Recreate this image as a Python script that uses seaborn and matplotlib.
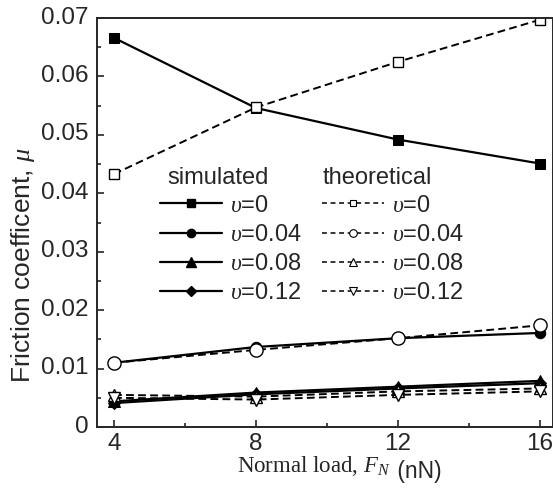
import matplotlib
matplotlib.use("Agg")
import matplotlib.pyplot as plt
import matplotlib.transforms as mtransforms
import seaborn as sns
import pandas as pd
from matplotlib.lines import Line2D
from matplotlib.ticker import MultipleLocator

loads = [4, 8, 12, 16]
sim_v0 = [0.0666, 0.0546, 0.0492, 0.0451]
theo_v0 = [0.0433, 0.0547, 0.0625, 0.0697]
sim_v004 = [0.0110, 0.0137, 0.0152, 0.0161]
theo_v004 = [0.0110, 0.0132, 0.0152, 0.0174]
sim_v008 = [0.0044, 0.0059, 0.0069, 0.0079]
theo_v008 = [0.0055, 0.0052, 0.0061, 0.0066]
sim_v012 = [0.0041, 0.0056, 0.0066, 0.0075]
theo_v012 = [0.0050, 0.0047, 0.0055, 0.0061]
labels = ["0", "0.04", "0.08", "0.12"]
xtick_labels = ["4", "8", "12", "16"]
ytick_vals = [0, 0.01, 0.02, 0.03, 0.04, 0.05, 0.06, 0.07]
ytick_labels = ["0", "0.01", "0.02", "0.03", "0.04", "0.05", "0.06", "0.07"]

sns.set_style("ticks")
plt.rcParams["font.family"] = ["Liberation Sans", "DejaVu Sans"]
plt.rcParams["mathtext.fontset"] = "custom"
plt.rcParams["mathtext.it"] = "Liberation Serif:italic"
plt.rcParams["mathtext.rm"] = "Liberation Serif"

fig = plt.figure(figsize=(5.53, 4.91), dpi=100)
ax = fig.add_axes([0.1754, 0.1303, 0.8246, 0.833])

sim_sets = [sim_v0, sim_v004, sim_v008, sim_v012]
theo_sets = [theo_v0, theo_v004, theo_v008, theo_v012]
sim_markers = ["s", "o", "^", "D"]
theo_markers = ["s", "o", "^", "v"]
sim_ms = [7.5, 7.5, 8, 6.5]
theo_ms = [6.5, 9.5, 9, 9]
sim_leg_ms = [5.5, 6, 6.5, 5.5]
theo_leg_ms = [5, 5.5, 6, 6]

sim_handles, theo_handles = [], []
for vals, mk, ms, lms, lab in zip(sim_sets, sim_markers, sim_ms, sim_leg_ms, labels):
    df = pd.DataFrame({"load": loads, "mu": vals})
    sns.lineplot(data=df, x="load", y="mu", ax=ax, color="black", lw=1.6,
                 marker=mk, markersize=ms, markerfacecolor="black",
                 markeredgecolor="black", linestyle="-")
    sim_handles.append(Line2D([], [], color="black", lw=1.6, marker=mk,
                              markersize=lms, markerfacecolor="black",
                              markeredgecolor="black",
                              label=r"$\upsilon$=" + lab))
for vals, mk, ms, lms, lab in zip(theo_sets, theo_markers, theo_ms, theo_leg_ms, labels):
    df = pd.DataFrame({"load": loads, "mu": vals})
    sns.lineplot(data=df, x="load", y="mu", ax=ax, color="black", lw=1.4,
                 marker=mk, markersize=ms, markerfacecolor="white",
                 markeredgecolor="black", markeredgewidth=1.0,
                 linestyle=(0, (4, 2.2)))
    theo_handles.append(Line2D([], [], color="black", lw=1.1, marker=mk,
                               markersize=lms, markerfacecolor="white",
                               markeredgecolor="black", markeredgewidth=0.8,
                               linestyle=(0, (3.2, 2.4)),
                               label=r"$\upsilon$=" + lab))

ax.set_xlim(3.52, 16.37)
ax.set_ylim(0, 0.07)
ax.set_xticks(loads)
ax.set_xticklabels(xtick_labels)
ax.xaxis.set_minor_locator(MultipleLocator(2))
ax.set_yticks(ytick_vals)
ax.set_yticklabels(ytick_labels)
ax.yaxis.set_minor_locator(MultipleLocator(0.005))
ax.tick_params(which="major", direction="in", length=5, width=1.2, labelsize=17.5)
ax.tick_params(axis="x", which="major", pad=4)
ax.tick_params(axis="y", which="major", pad=6)
ax.tick_params(which="minor", direction="in", length=3, width=1.2)
shift = mtransforms.ScaledTranslation(0, 3 / 100, fig.dpi_scale_trans)
for lbl in ax.get_yticklabels():
    lbl.set_transform(lbl.get_transform() + shift)
for s in ax.spines.values():
    s.set_linewidth(1.4)
    s.set_visible(True)

ax.set_xlabel("")
ax.set_ylabel(r"Friction coefficent, $\mu$", fontsize=19)
ax.yaxis.set_label_coords(-0.131, 0.396)

xl = fig.text(237 / 553, 0.038, r"Normal load, $F_N$", family="Liberation Serif",
              fontsize=16.5, ha="left", va="baseline")
ax.annotate(" (nN)", xy=(1, 0), xycoords=xl, va="baseline", ha="left",
            fontsize=16.5, annotation_clip=False)

common = dict(loc="upper left", frameon=False, fontsize=17, handlelength=2.63,
              handletextpad=0.34, labelspacing=0.3, borderaxespad=0, borderpad=0)
leg1 = ax.legend(handles=sim_handles, bbox_to_anchor=(0.138, 0.568), **common)
ax.add_artist(leg1)
ax.legend(handles=theo_handles, bbox_to_anchor=(0.493, 0.568), **common)
ax.text(0.1535, 0.609, "simulated", transform=ax.transAxes, fontsize=17, va="center")
ax.text(0.4956, 0.609, "theoretical", transform=ax.transAxes, fontsize=17, va="center")

fig.savefig("out.png", dpi=100)
